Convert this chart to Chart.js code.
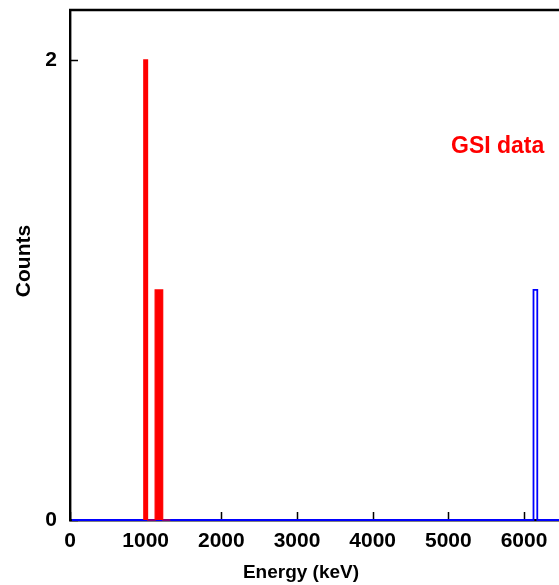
<!DOCTYPE html>
<html>
<head>
<meta charset="utf-8">
<script src="https://cdn.jsdelivr.net/npm/chart.js@4"></script>
<style>
  html, body { margin: 0; padding: 0; background: #fff; overflow: hidden; }
  canvas { display: block; }
</style>
</head>
<body>
<canvas id="spectrum" width="559" height="585"></canvas>
<script>
// Histogram data (bin centres in keV, counts), bin width 50 keV
const binWidth = 50;
const redRange = [975, 1325];
const redCenters = [1000, 1150, 1200];
const redCounts = [2, 1, 1];
const blueRange = [25, 6475];
const blueCenters = [6150];
const blueCounts = [1];

const xTickValues = [0, 1000, 2000, 3000, 4000, 5000, 6000];
const yTickValues = [0, 2];
const xLimits = [0, 6462];
const yLimits = [0, 2.217];

const fontFamily = '"Liberation Sans", Arial, Helvetica, sans-serif';

// turn bins into step-outline points
function histPoints(range, centers, counts) {
    const pts = [{ x: range[0], y: 0 }];
    centers.forEach((c, i) => {
        const lo = c - binWidth / 2;
        const hi = c + binWidth / 2;
        pts.push({ x: lo, y: 0 }, { x: lo, y: counts[i] }, { x: hi, y: counts[i] }, { x: hi, y: 0 });
    });
    pts.push({ x: range[1], y: 0 });
    return pts;
}

// inward tick marks, frame top line and text labels
const framePlugin = {
    id: 'frame',
    beforeDatasetsDraw(chart) {
        const ctx = chart.ctx;
        const area = chart.chartArea;
        const xs = chart.scales.x;
        const ys = chart.scales.y;
        ctx.save();
        ctx.strokeStyle = '#000';
        ctx.lineWidth = 2.4;
        ctx.beginPath();
        ctx.moveTo(area.left - 1, area.top);
        ctx.lineTo(area.right, area.top);
        ctx.stroke();
        ctx.lineWidth = 1.5;
        ctx.beginPath();
        xTickValues.forEach(v => {
            const px = Math.round(xs.getPixelForValue(v)) + 0.5;
            ctx.moveTo(px, area.bottom);
            ctx.lineTo(px, area.bottom - 8);
        });
        yTickValues.forEach(v => {
            const py = Math.round(ys.getPixelForValue(v)) + 0.5;
            ctx.moveTo(area.left, py);
            ctx.lineTo(area.left + 8, py);
        });
        ctx.stroke();
        ctx.restore();
    },
    afterDraw(chart) {
        const ctx = chart.ctx;
        ctx.save();
        ctx.fillStyle = '#000';
        ctx.font = 'bold 19px ' + fontFamily;
        ctx.textAlign = 'center';
        ctx.textBaseline = 'middle';
        ctx.fillText('Energy (keV)', 301, 573);
        ctx.font = 'bold 21px ' + fontFamily;
        ctx.translate(24, 261);
        ctx.rotate(-Math.PI / 2);
        ctx.fillText('Counts', 0, 0);
        ctx.restore();

        ctx.save();
        ctx.fillStyle = '#ff0000';
        ctx.font = 'bold 23px ' + fontFamily;
        ctx.textAlign = 'left';
        ctx.textBaseline = 'alphabetic';
        ctx.fillText('GSI data', 451, 153);
        ctx.restore();
    }
};

new Chart(document.getElementById('spectrum'), {
    type: 'scatter',
    data: {
        datasets: [
            {
                label: 'GSI data',
                data: histPoints(redRange, redCenters, redCounts),
                showLine: true,
                borderColor: '#ff0000',
                backgroundColor: '#ff0000',
                borderWidth: 1.2,
                pointRadius: 0,
                tension: 0,
                fill: 'origin',
                clip: false
            },
            {
                label: 'other',
                data: histPoints(blueRange, blueCenters, blueCounts),
                showLine: true,
                borderColor: '#0000ff',
                borderWidth: 1.8,
                pointRadius: 0,
                tension: 0,
                fill: false,
                clip: false
            }
        ]
    },
    options: {
        responsive: false,
        animation: false,
        devicePixelRatio: 1,
        layout: { padding: { top: 10, right: 0, left: 0, bottom: 0 } },
        plugins: {
            legend: { display: false },
            tooltip: { enabled: false },
            filler: { propagate: false }
        },
        scales: {
            x: {
                type: 'linear',
                min: xLimits[0],
                max: xLimits[1],
                grid: { display: false },
                border: { display: true, color: '#000', width: 2.4 },
                afterBuildTicks: scale => { scale.ticks = xTickValues.map(v => ({ value: v })); },
                afterFit: scale => {
                    scale.height = 65;
                    scale.paddingLeft = 0;
                    scale.paddingRight = 0;
                },
                ticks: {
                    color: '#000',
                    padding: 1,
                    maxRotation: 0,
                    callback: v => String(v),
                    font: { family: fontFamily, size: 21, weight: 'bold' }
                }
            },
            y: {
                type: 'linear',
                min: yLimits[0],
                max: yLimits[1],
                grid: { display: false },
                border: { display: true, color: '#000', width: 2.4 },
                afterBuildTicks: scale => { scale.ticks = yTickValues.map(v => ({ value: v })); },
                afterFit: scale => {
                    scale.width = 70;
                    scale.paddingTop = 0;
                    scale.paddingBottom = 0;
                },
                ticks: {
                    color: '#000',
                    padding: 5,
                    callback: v => String(v),
                    font: { family: fontFamily, size: 21, weight: 'bold' }
                }
            }
        }
    },
    plugins: [framePlugin]
});
</script>
</body>
</html>
